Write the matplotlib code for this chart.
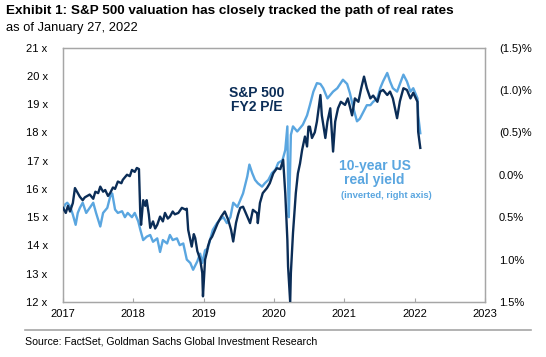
import numpy as np
import matplotlib
matplotlib.use("Agg")
import matplotlib.pyplot as plt
from matplotlib.lines import Line2D

# Data (years after Jan 2017)
start_year = 2017

pe_t = [
    0.00, 0.04, 0.07, 0.10, 0.14, 0.17, 0.20, 0.24, 0.28, 0.31,
    0.38, 0.43, 0.46, 0.50, 0.53, 0.57, 0.60, 0.64, 0.67, 0.71,
    0.74, 0.78, 0.83, 0.85, 0.91, 0.95, 0.98, 1.02, 1.05, 1.08,
    1.10, 1.11, 1.14, 1.17, 1.19, 1.22, 1.24, 1.28, 1.31, 1.34,
    1.38, 1.42, 1.45, 1.49, 1.52, 1.56, 1.59, 1.64, 1.69, 1.74,
    1.76, 1.78, 1.81, 1.83, 1.86, 1.88, 1.91, 1.92, 1.95, 1.98,
    1.99, 2.02, 2.05, 2.06, 2.09, 2.12, 2.16, 2.20, 2.25, 2.30,
    2.35, 2.39, 2.42, 2.46, 2.49, 2.52, 2.56, 2.62, 2.66, 2.70,
    2.76, 2.77, 2.80, 2.84, 2.90, 2.94, 2.99, 3.04, 3.09, 3.13,
    3.16, 3.19, 3.20, 3.23, 3.24, 3.27, 3.31, 3.34, 3.37, 3.40,
    3.44, 3.47, 3.49, 3.51, 3.54, 3.58, 3.61, 3.66, 3.68, 3.73,
    3.76, 3.80, 3.84, 3.87, 3.91, 3.95, 4.01, 4.05, 4.11, 4.15,
    4.20, 4.24, 4.28, 4.32, 4.37, 4.41, 4.47, 4.51, 4.55, 4.61,
    4.65, 4.69, 4.75, 4.79, 4.84, 4.89, 4.94, 4.98, 5.04, 5.05,
    5.08,
]
pe_values = [
    15.33, 15.15, 15.40, 15.20, 15.50, 16.03, 15.90, 15.72, 15.60, 15.70,
    15.80, 15.65, 15.90, 15.85, 16.08, 15.90, 15.96, 15.75, 15.85, 16.05,
    16.00, 16.26, 16.20, 16.32, 16.50, 16.45, 16.67, 16.60, 16.74, 16.70,
    15.02, 14.73, 15.60, 15.40, 15.60, 15.10, 14.62, 14.85, 14.60, 14.73,
    15.02, 14.85, 15.15, 14.95, 15.02, 15.20, 15.10, 15.15, 15.33, 15.27,
    15.30, 14.55, 14.20, 13.96, 14.40, 14.26, 13.80, 13.73, 13.50, 13.03,
    12.20, 13.50, 13.80, 13.96, 14.20, 14.31, 14.55, 14.79, 15.02, 15.20,
    14.90, 14.55, 14.14, 14.80, 15.10, 15.33, 15.37, 15.02, 14.79, 15.26,
    15.14, 14.79, 15.50, 15.85, 16.03, 16.20, 16.55, 16.73, 16.70, 17.03,
    15.85, 14.20, 13.26, 12.00, 13.03, 14.44, 15.85, 16.55, 16.90, 17.38,
    17.85, 17.50, 18.20, 18.20, 17.80, 18.00, 18.38, 19.32, 18.60, 17.80,
    18.38, 18.85, 17.32, 18.38, 18.85, 19.08, 18.97, 19.20, 18.60, 19.20,
    19.08, 19.56, 19.97, 19.56, 19.20, 19.30, 19.08, 19.44, 19.50, 19.32,
    19.44, 19.20, 18.50, 19.10, 19.56, 19.50, 19.20, 19.40, 19.08, 18.02,
    17.45,
]

ry_t = [
    0.00, 0.03, 0.06, 0.10, 0.14, 0.18, 0.21, 0.24, 0.28, 0.33,
    0.38, 0.43, 0.47, 0.53, 0.57, 0.63, 0.67, 0.70, 0.74, 0.78,
    0.84, 0.88, 0.92, 0.98, 1.02, 1.07, 1.10, 1.14, 1.19, 1.24,
    1.28, 1.34, 1.38, 1.42, 1.48, 1.52, 1.56, 1.62, 1.66, 1.71,
    1.76, 1.81, 1.85, 1.91, 1.95, 1.98, 2.02, 2.06, 2.09, 2.13,
    2.19, 2.23, 2.28, 2.33, 2.38, 2.42, 2.48, 2.52, 2.56, 2.62,
    2.65, 2.69, 2.73, 2.77, 2.83, 2.87, 2.92, 2.97, 3.02, 3.06,
    3.12, 3.16, 3.19, 3.20, 3.21, 3.23, 3.24, 3.27, 3.33, 3.37,
    3.41, 3.47, 3.51, 3.56, 3.61, 3.66, 3.70, 3.76, 3.80, 3.84,
    3.90, 3.94, 3.98, 4.04, 4.08, 4.13, 4.18, 4.22, 4.27, 4.32,
    4.37, 4.41, 4.47, 4.51, 4.55, 4.61, 4.65, 4.69, 4.75, 4.79,
    4.84, 4.89, 4.94, 4.98, 5.04, 5.05, 5.08,
]
ry_values = [
    0.42, 0.35, 0.33, 0.37, 0.47, 0.59, 0.45, 0.39, 0.33, 0.45,
    0.39, 0.33, 0.45, 0.61, 0.45, 0.39, 0.26, 0.22, 0.41, 0.45,
    0.43, 0.50, 0.45, 0.50, 0.45, 0.55, 0.65, 0.77, 0.73, 0.71,
    0.79, 0.75, 0.91, 0.77, 0.81, 0.71, 0.77, 0.75, 0.83, 0.81,
    1.00, 1.04, 1.12, 1.02, 0.93, 1.04, 0.89, 0.87, 0.77, 0.65,
    0.57, 0.53, 0.50, 0.57, 0.50, 0.33, 0.38, 0.30, 0.22, 0.02,
    -0.12, -0.02, 0.06, 0.10, 0.14, 0.10, 0.06, -0.02, -0.06, -0.14,
    -0.17, -0.29, -0.57, 0.05, 0.50, -0.10, -0.47, -0.57, -0.51, -0.55,
    -0.59, -0.70, -0.82, -0.98, -1.08, -1.07, -1.02, -0.90, -0.94, -0.98,
    -1.02, -1.07, -1.12, -1.07, -0.96, -0.78, -0.63, -0.66, -0.74, -0.82,
    -0.82, -0.86, -0.90, -1.02, -1.10, -1.20, -1.10, -1.02, -0.98, -1.07,
    -1.18, -1.10, -0.98, -1.02, -0.90, -0.70, -0.49,
]

year_ticks = [2017, 2018, 2019, 2020, 2021, 2022, 2023]
pe_ticks = [12, 13, 14, 15, 16, 17, 18, 19, 20, 21]
ry_ticks = [-1.5, -1.0, -0.5, 0.0, 0.5, 1.0, 1.5]

DARK = "#0b2d57"
LIGHT = "#5aa6e0"
GRID = "#a6a6a6"

plt.rcParams["font.family"] = ["Liberation Sans", "DejaVu Sans"]

fig = plt.figure(figsize=(5.46, 3.57), dpi=100)
ax = fig.add_axes([63 / 546, 1 - 302 / 357, (485 - 63) / 546, (302 - 47.5) / 357])
ax2 = ax.twinx()

ax2.plot(start_year + np.array(ry_t), ry_values, color=LIGHT, lw=1.7, zorder=2)
ax.plot(start_year + np.array(pe_t), pe_values, color=DARK, lw=1.7, zorder=3)
ax.set_zorder(ax2.get_zorder() + 1)
ax.patch.set_visible(False)

ax.set_xlim(2017, 2023)
ax.set_ylim(12, 21)
ax2.set_ylim(1.5, -1.5)

ax.set_xticks(year_ticks)
ax.set_xticklabels([str(y) for y in year_ticks], fontsize=8)
ax.set_yticks(pe_ticks)
ax.set_yticklabels([f"{v} x" for v in pe_ticks], fontsize=8)


def pct(v):
    if v < 0:
        return f"({abs(v):.1f})%"
    return f"{v:.1f}%"


ax2.set_yticks(ry_ticks)
ax2.set_yticklabels([pct(v) for v in ry_ticks], fontsize=8)

for a in (ax, ax2):
    for s in a.spines.values():
        s.set_color(GRID)
        s.set_linewidth(0.9)
ax.tick_params(axis="x", direction="in", length=3, color=GRID, pad=5)
ax.tick_params(axis="y", length=0, pad=11)
ax2.tick_params(axis="y", length=0, pad=10)

ax.text(2019.76, 19.15, "S&P 500\nFY2 P/E", color=DARK, fontsize=10,
        fontweight="bold", ha="center", va="center", linespacing=1.0)
ax.text(2021.43, 16.55, "10-year US\nreal yield", color=LIGHT, fontsize=10,
        fontweight="bold", ha="center", va="center", linespacing=1.0)
ax.text(2021.6, 15.75, "(inverted, right axis)", color=LIGHT, fontsize=6.8,
        fontweight="bold", ha="center", va="center")

fig.text(6 / 546, 1 - 11 / 357, "Exhibit 1: S&P 500 valuation has closely tracked the path of real rates",
         fontsize=9.7, fontweight="bold", ha="left", va="center")
fig.text(6 / 546, 1 - 28 / 357, "as of January 27, 2022", fontsize=9.3, ha="left", va="center")
fig.text(25 / 546, 1 - 342 / 357, "Source: FactSet, Goldman Sachs Global Investment Research",
         fontsize=7.6, ha="left", va="center")
fig.add_artist(Line2D([25 / 546, 531 / 546], [1 - 330 / 357, 1 - 330 / 357],
                      color=GRID, lw=1.2, transform=fig.transFigure))

fig.savefig("out.png", dpi=100)
